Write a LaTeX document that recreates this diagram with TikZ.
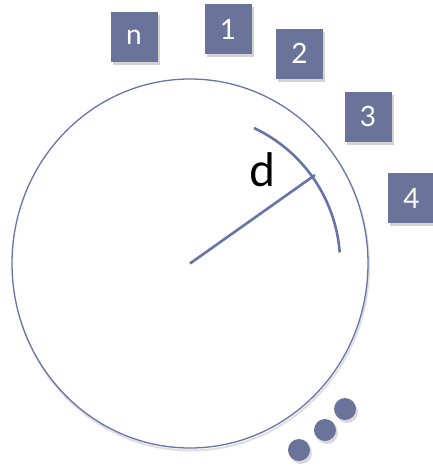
\documentclass[tikz,border=0pt]{standalone}
\usepackage{fontspec}
\setmainfont{Lato}
\usetikzlibrary{shadows}
\definecolor{slate}{RGB}{106,116,155}
\definecolor{lineblue}{RGB}{104,116,168}
\tikzset{
  numbox/.style={fill=slate, draw=none, minimum width=47pt, minimum height=50pt, inner sep=0pt,
    text=white, font=\fontsize{28}{28}\selectfont,
    drop shadow={shadow xshift=2pt, shadow yshift=-3pt, opacity=0.35, fill=gray}},
  dot/.style={circle, fill=slate, minimum size=22pt, inner sep=0pt,
    drop shadow={shadow xshift=2pt, shadow yshift=-3pt, opacity=0.3, fill=gray}},
  thinline/.style={draw=lineblue, line width=1.3pt},
  thickline/.style={draw=lineblue, line width=2.6pt}
}
\begin{document}
\begin{tikzpicture}[x=1pt,y=-1pt]
\useasboundingbox (0,0) rectangle (433,472);
\clip (0,0) rectangle (433,472);
% big circle
\coordinate (c) at (190,263.5);
\draw[gray!25, line width=2pt] (191,266) ellipse [x radius=178, y radius=184.5];
\draw[thinline, fill=white] (c) ellipse [x radius=178, y radius=184.5];
% inner arc
\coordinate (a0) at (254,128);
\draw[thickline] (a0) arc[start angle=-64.8, end angle=-4.3, radius=150];
\coordinate (r) at (315,175);
\draw[thickline] (c) -- (r);
\node[font=\fontsize{46}{46}\selectfont, inner sep=0pt] (d) at (262,170) {d};
% boxes
\node[numbox] (bn) at (134,37) {n};
\node[numbox] (b1) at (228,29) {1};
\node[numbox] (b2) at (299.5,53.5) {2};
\node[numbox] (b3) at (368,116.5) {3};
\node[numbox] (b4) at (411.5,198) {4};
% dots
\node[dot] (d1) at (299,450) {};
\node[dot] (d2) at (325,430) {};
\node[dot] (d3) at (345,409) {};
\end{tikzpicture}
\end{document}
